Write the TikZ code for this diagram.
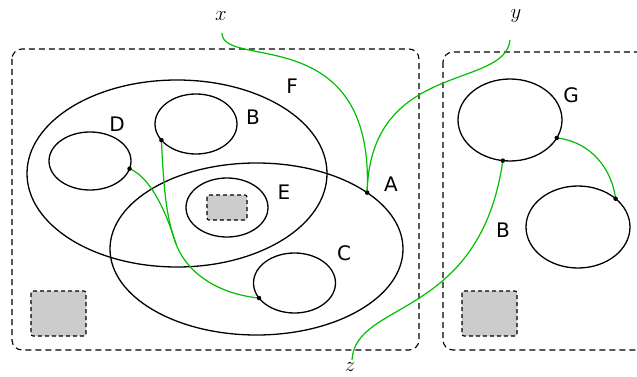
\documentclass[tikz,border=0pt]{standalone}
\usepackage{fontspec}
\setsansfont{DejaVu Sans}
\usetikzlibrary{shapes.geometric}
\tikzset{
  set/.style={draw=black, line width=1.3pt, shape=ellipse, inner sep=0pt, outer sep=0pt},
  region/.style={draw=black, line width=1.1pt, dash pattern=on 6pt off 4pt, rounded corners=10pt},
  slot/.style={draw=black, fill=black!20, line width=1.1pt, dash pattern=on 4pt off 3pt, rounded corners=2pt},
  wire/.style={draw=green!75!black, line width=1.2pt},
  lbl/.style={font=\fontsize{20}{24}\selectfont\sffamily, inner sep=0pt},
  var/.style={font=\fontsize{20}{24}\selectfont, inner sep=0pt},
  pin/.style={fill=black, circle, inner sep=0pt, minimum size=4.5pt}
}
\begin{document}
\begin{tikzpicture}[x=1pt,y=-1pt]
\clip (0,0) rectangle (637,377);
\fill[white] (0,0) rectangle (637,377);
% regions
\draw[region] (12,49) rectangle (419,350);
\draw[region] (443,52) rectangle (680,350);
\draw[slot] (31,291) rectangle (86,336);
\draw[slot] (462,291) rectangle (517,336);
% sets
\node[set, minimum width=300pt, minimum height=187pt] (F) at (177,173.5) {};
\node[set, minimum width=293pt, minimum height=172pt] (A) at (256.5,249) {};
\node[set, minimum width=82pt, minimum height=58pt] (D) at (90,161) {};
\node[set, minimum width=82pt, minimum height=60pt] (B) at (196,124) {};
\node[set, minimum width=82pt, minimum height=59pt] (E) at (227,207.5) {};
\draw[slot] (207,195) rectangle (247,220);
\node[set, minimum width=82pt, minimum height=60pt] (C) at (294.5,283) {};
\node[set, minimum width=104pt, minimum height=82pt] (G) at (510,120) {};
\node[set, minimum width=104pt, minimum height=82pt] (H) at (578,227) {};
% labels
\node[lbl] at (292,86) {F};
\node[lbl] at (253,117) {B};
\node[lbl] at (117,124) {D};
\node[lbl] at (284,192) {E};
\node[lbl] at (391,184) {A};
\node[lbl] at (344,253) {C};
\node[lbl] at (571,95) {G};
\node[lbl] at (503,230) {B};
\node[var] (x) at (221,16) {$x$};
\node[var] (y) at (516,16) {$y$};
\node[var] (z) at (350,367) {$z$};
% anchor points
\coordinate (xs) at (222,33);
\coordinate (ys) at (510,40);
\coordinate (ze) at (352,360);
\coordinate (M) at (176,244);
\coordinate (pA) at (A.27.7);
\coordinate (pD) at (D.-11);
\coordinate (pB) at (B.205);
\coordinate (pC) at (C.203);
\coordinate (pGb) at (G.260);
\coordinate (pGr) at (G.-21);
\coordinate (pH) at (H.37);
% wires
\draw[wire] (xs) .. controls (222,70) and (375,20) .. (pA);
\draw[wire] (ys) .. controls (505,90) and (370,60) .. (pA);
\draw[wire] (pD) .. controls (152,178) and (167,215) .. (M)
  .. controls (188,275) and (220,294) .. (pC);
\draw[wire] (pB) .. controls (164,200) and (168,222) .. (M);
\draw[wire] (pGb) .. controls (480,320) and (355,300) .. (ze);
\draw[wire] (pGr) .. controls (592,142) and (612,170) .. (pH);
% dots
\foreach \p in {pA,pD,pB,pC,pGb,pGr,pH} \node[pin] at (\p) {};
\end{tikzpicture}
\end{document}
